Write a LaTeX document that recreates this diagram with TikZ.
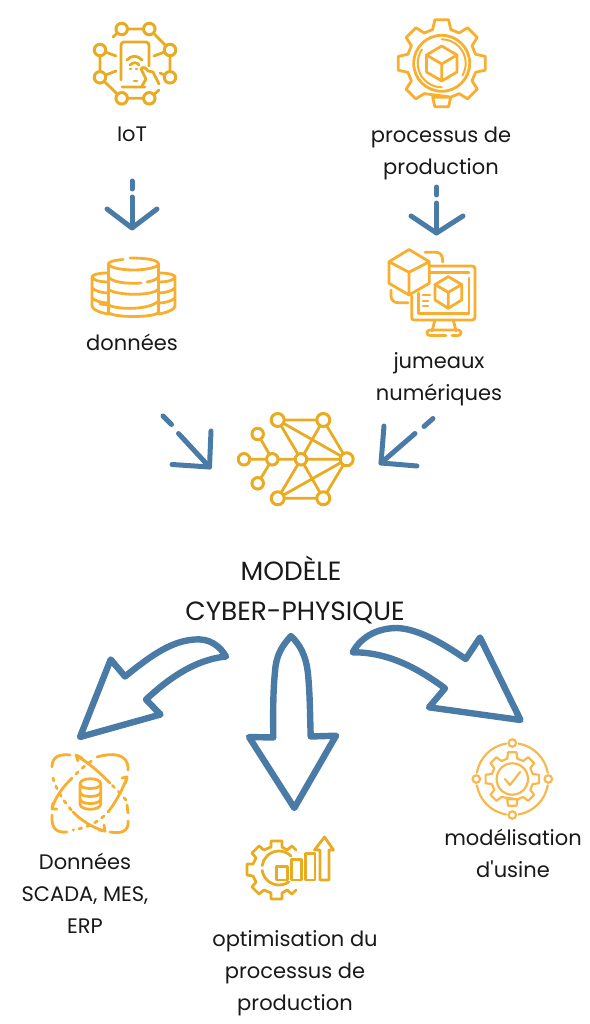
\documentclass[tikz,border=0pt]{standalone}
\usepackage{fontspec}
\setmainfont{Poppins}
\newfontfamily\plainpoppins{Poppins}
\usetikzlibrary{calc,arrows.meta}
\definecolor{arrowblue}{HTML}{4A7BA7}
\definecolor{iconA}{HTML}{E9AB22}
\definecolor{iconB}{HTML}{F8AE2E}
\definecolor{iconC}{HTML}{F8B84E}
\newcommand{\fullgear}[7]{% style, cx, cy, rin, rout, halfin, halfout  (8 teeth, one on top)
  \draw[#1] ($(#2,#3)+(90-#6:#4)$)
    \foreach \gA in {90,45,0,-45,-90,-135,-180,-225}{
      -- ($(#2,#3)+(\gA+#6:#4)$) -- ($(#2,#3)+(\gA+#7:#5)$) -- ($(#2,#3)+(\gA-#7:#5)$) -- ($(#2,#3)+(\gA-#6:#4)$)
    } -- cycle;}
\tikzset{
  x=1pt,y=-1pt,
  lbl/.style={font=\fontsize{21}{32}\selectfont,align=center,text=black!90,inner sep=0pt},
  thinarrow/.style={draw=arrowblue,line width=5pt,line cap=round,line join=round},
  bigarrow/.style={draw=arrowblue,line width=6.4pt,line join=round,line cap=round},
  icona/.style={draw=iconA,line width=2.8pt,line cap=round,line join=round},
  iconb/.style={draw=iconB,line width=2.8pt,line cap=round,line join=round},
  iconc/.style={draw=iconC,line width=2.2pt,line cap=round,line join=round},
  netnode/.style={circle,draw=iconA,line width=3pt,fill=white,minimum size=13pt,inner sep=0pt},
  netline/.style={draw=iconA,line width=2.8pt},
}
\begin{document}
\begin{tikzpicture}
\useasboundingbox (0,0) rectangle (589,1024);
% ---------- texts
\node[lbl] (iot) at (132,134) {IoT};
\node[lbl] (proc) at (441,153) {processus de\\production};
\node[lbl] (donnees) at (132,342) {données};
\node[lbl] (jumeaux) at (439,379) {jumeaux\\numériques};
\node[lbl,font=\fontsize{26.4}{40}\selectfont] (modele) at (295,590) {MODÈLE\hspace*{8pt}\\CYBER-PHYSIQUE};
\node[lbl] (scada) at (85,893) {Données\\SCADA, MES,\\ERP};
\node[lbl] (optim) at (295,973) {optimisation du\\processus de\\production};
\node[lbl] (usine) at (513,853.5) {modélisation\\d{\plainpoppins '}usine};
% ---------- small arrows
\coordinate (a1d1) at (132,181); \coordinate (a1d2) at (132,189);
\coordinate (a1s) at (132,197); \coordinate (a1t) at (132,228);
\coordinate (a1l) at (107,209); \coordinate (a1r) at (157,209);
\draw[thinarrow] (a1d1) -- (a1d2);
\draw[thinarrow] (a1s) -- (a1t);
\draw[thinarrow] (a1l) -- (a1t) -- (a1r);
\coordinate (a2d1) at (436.5,187); \coordinate (a2d2) at (436.5,195);
\coordinate (a2s) at (436.5,203); \coordinate (a2t) at (436.5,233);
\coordinate (a2l) at (411,216); \coordinate (a2r) at (463,216);
\draw[thinarrow] (a2d1) -- (a2d2);
\draw[thinarrow] (a2s) -- (a2t);
\draw[thinarrow] (a2l) -- (a2t) -- (a2r);
\coordinate (a3d1) at (163,416); \coordinate (a3d2) at (171.5,424.5);
\coordinate (a3s) at (178.5,433.5); \coordinate (a3t) at (209.5,467);
\coordinate (a3l) at (211,431); \coordinate (a3r) at (172,464.5);
\draw[thinarrow] (a3d1) -- (a3d2);
\draw[thinarrow] (a3s) -- (a3t);
\draw[thinarrow] (a3l) -- (a3t) -- (a3r);
\coordinate (a4d1) at (433,418.5); \coordinate (a4d2) at (424,426.5);
\coordinate (a4s) at (415,433.5); \coordinate (a4t) at (381,463);
\coordinate (a4l) at (384,426); \coordinate (a4r) at (417,466);
\draw[thinarrow] (a4d1) -- (a4d2);
\draw[thinarrow] (a4s) -- (a4t);
\draw[thinarrow] (a4l) -- (a4t) -- (a4r);
% ---------- big arrows
\draw[bigarrow] (226,656.5) .. controls (216,640) and (203,638) .. (190,640)
  .. controls (168,643) and (148,658) .. (125,676.5)
  -- (110.7,659.5) -- (80,737) -- (160.5,714.5) -- (146,699.5)
  .. controls (165,682) and (192,660) .. (226,656.5) -- cycle;
\draw[bigarrow] (291,636) .. controls (282,646) and (276,655) .. (275,672)
  .. controls (273,690) and (273,715) .. (273.3,737.5)
  -- (249,737) -- (294.3,808) -- (336,735.7) -- (310.7,736.5)
  .. controls (310,715) and (310,695) .. (308,674)
  .. controls (306,655) and (300,645) .. (291,636) -- cycle;
\draw[bigarrow] (352.7,652.3) .. controls (362,635) and (380,628) .. (397,628)
  .. controls (420,629) and (445,645) .. (465.7,659)
  -- (480,637.5) -- (520.5,720) -- (429,707.3) -- (445,688.3)
  .. controls (420,670) and (390,652) .. (352.7,652.3) -- cycle;
% ---------- network icon
\foreach \n/\x/\y in {na/277.7/420,nb/323.3/420,nc/257.7/434,nd/244/459.3,ne/272.3/459.3,nf/301/459.3,ng/346.7/459.3,nh/257.7/483.3,ni/277.7/498.3,nj/323.3/498.3}
  \coordinate (\n) at (\x,\y);
\draw[netline] (na)--(nb) (ni)--(nj) (na)--(nf) (na)--(ng) (nb)--(ng) (nb)--(nf)
  (ni)--(nf) (ni)--(ng) (nj)--(ng) (nj)--(nf) (nd)--(ng) (nc)--(ne) (nh)--(ne);
\foreach \n in {na,nb,ni,nj,ng} \node[netnode] (c\n) at (\n) {};
\foreach \n in {nc,nd,ne,nf,nh} \node[netnode,minimum size=11.5pt] (c\n) at (\n) {};
% ---------- IoT icon
\foreach \x/\y [count=\i] in {121.7/29,149.3/29,100/50,170/50,100/77.3,170/77.3,121.7/98.3,149.3/98.3}
  \coordinate (p\i) at (\x,\y);
\draw[icona] (p1)--(p2) (p7)--(p8) (p3)--(p5) (p4)--(p6)
  (p2)--(p4) (p5)--(p7)
  (p1)--(113,37) (p8)--(159,90) (p3)--(116,56) (p5)--(116,71) (p4)--(154,56) (p6)--(160,73);
\foreach \i in {1,...,8} \node[netnode,minimum size=11.5pt] (q\i) at (p\i) {};
\draw[icona] (122,87) -- (145,87) (121,80) -- (121,45) arc[start angle=180,end angle=270,radius=3] -- (146,42) arc[start angle=-90,end angle=0,radius=3] -- (149,66);
\draw[icona] (128,42) -- (138,42);
\draw[icona] (127,60) .. controls (131,55) and (138,55) .. (142,60);
\draw[icona] (130,65) .. controls (133,62) and (137,62) .. (139,65);
\draw[icona] (130,69) -- (131,69) (136,69) -- (137,69) (134,81) -- (137,81);
\draw[icona] (142,86) -- (146,79) -- (141,69) .. controls (143,66) and (146,68) .. (148,71) -- (153,72) -- (159,84);
% ---------- production gear
\fullgear{iconb}{441.7}{63.3}{35}{44}{15}{9}
\draw[iconb] (441.7,63.3) circle[radius=28];
\draw[iconb,line width=2pt] (441.7,39.3) arc[start angle=-90,end angle=30,radius=24];
\draw[iconb,line width=2pt] (441.7,87.3) arc[start angle=90,end angle=215,radius=24];
\draw[iconb] (441.7,46) -- (457,55) -- (457,72) -- (441.7,81) -- (426.5,72) -- (426.5,55) -- cycle
  (426.5,55) -- (441.7,64) -- (457,55) (441.7,64) -- (441.7,81);
% ---------- database icon
\draw[iconb] (108.5,273) .. controls (97,273) and (92,275) .. (92,277) -- (92,306)
  .. controls (92,309) and (100,313) .. (108.5,314);
\draw[iconb] (92,277) .. controls (92,280) and (100,282) .. (108.5,282);
\draw[iconb] (92,288) .. controls (95,291) and (102,293) .. (108.5,293);
\draw[iconb] (92,298) .. controls (95,301) and (102,303) .. (108.5,303);
\draw[iconb] (158.5,273) .. controls (170,273) and (175,275) .. (175,277) -- (175,306)
  .. controls (175,309) and (167,313) .. (158.5,314);
\draw[iconb] (175,277) .. controls (175,280) and (167,282) .. (158.5,282);
\draw[iconb] (175,288) .. controls (172,291) and (165,293) .. (158.5,293);
\draw[iconb] (175,298) .. controls (172,301) and (165,303) .. (158.5,303);
\draw[iconb] (108.5,264) -- (108.5,312);
\draw[iconb] (158.5,264) -- (158.5,312);
\draw[iconb] (108.5,312) .. controls (110,318) and (157,318) .. (158.5,312);
\draw[iconb] (123,259.5) .. controls (112,260.5) and (108.5,262) .. (108.5,264)
  .. controls (108.5,267) and (120,270) .. (133.5,270)
  .. controls (147,270) and (158.5,267) .. (158.5,264)
  .. controls (158.5,260) and (147,258) .. (130,258);
\draw[iconb] (108.5,277) .. controls (112,282) and (125,284) .. (141,283);
\draw[iconb] (147,282) .. controls (152,281) and (156,280) .. (158.5,277);
\draw[iconb] (108.5,289) .. controls (112,295) and (152,297) .. (158.5,289);
\draw[iconb] (100,304) -- (108.5,305) .. controls (118,310) and (150,310) .. (158.5,301);
% ---------- twin icon
\draw[iconb] (409,249.5) -- (429.3,261.7) -- (429.3,283.3) -- (409,295) -- (389,283.3) -- (389,261.7) -- cycle
  (389,261.7) -- (409,272.3) -- (429.3,261.7) (409,272.3) -- (409,295);
\draw[iconb] (429.5,266) -- (472,266) .. controls (474,266) and (475,267) .. (475,269) -- (475,317)
  .. controls (475,319) and (474,320) .. (472,320) -- (414,320) .. controls (412,320) and (411.7,319) .. (411.7,317) -- (411.7,296);
\draw[iconb] (430.5,272.7) -- (469,272.7) (469,278) -- (469,313.5) -- (418.3,313.5) -- (418.3,293);
\draw[iconb] (435,320) -- (432,331) (453.3,320) -- (456,331);
\draw[iconb] (446,335.5) -- (430,335.5) .. controls (426,335.5) and (426,330) .. (430,330) -- (458,330) .. controls (462,330) and (462,335.5) .. (458,335.5) -- (452,335.5);
\draw[iconb] (448.3,276.7) -- (461.7,284.5) -- (461.7,300) -- (448.3,308.3) -- (435,300) -- (435,284.5) -- cycle
  (435,284.5) -- (448.3,292.3) -- (461.7,284.5) (448.3,292.3) -- (448.3,308.3);
\draw[iconb] (423,295) -- (430,295) (423,301) -- (428,301) (423,306) -- (428,306);
\draw[iconb] (425,252.3) -- (436,252.3) .. controls (441,252.3) and (442.7,256) .. (442.7,262);
\draw[iconb] (391,290) -- (391,296) .. controls (391,300) and (394,302.7) .. (398,302.7) -- (408,302.7);
% ---------- SCADA icon
\tikzset{orbitdash/.style={iconb,dash pattern=on 3pt off 5.5pt}}
\draw[iconb] (70,755) .. controls (60,754) and (52,756) .. (52,767);
\draw[orbitdash] (53,778) .. controls (56,790) and (65,803) .. (73,812);
\draw[iconb] (73,812) .. controls (82,821) and (93,828) .. (105,831);
\draw[iconb] (110,832) .. controls (122,834) and (129,831) .. (128,821);
\draw[iconb] (128,813) -- (127,805);
\draw[orbitdash] (126,800) .. controls (122,795) and (117,790) .. (110,783);
\draw[iconb] (110,783) .. controls (100,773) and (88,762) .. (76.7,756);
\draw[iconb] (97,757) .. controls (110,753) and (129,752) .. (128,770);
\draw[iconb] (127,778) .. controls (122,790) and (116,802) .. (108,812);
\draw[orbitdash] (104,816) .. controls (96,823) and (86,828) .. (73,830);
\draw[iconb] (67,832) .. controls (57,833) and (51,829) .. (52,815);
\draw[iconb] (52,808) .. controls (56,796) and (63,787) .. (72,778);
\draw[orbitdash] (76,774) .. controls (81,769) and (87,764) .. (93,760);
\draw[iconb] (82,758) -- (76,755) -- (78,761);
\draw[iconb] (122,778) -- (127,777) -- (125.5,783);
\draw[iconb] (57,809) -- (52,809) -- (53,803);
\draw[iconb] (104,825) -- (105,831) -- (99,830);
\draw[iconb] (80,784) -- (80,804) .. controls (80,811) and (100.7,811) .. (100.7,804) -- (100.7,784)
  (80,784) .. controls (80,777) and (100.7,777) .. (100.7,784) .. controls (100.7,790) and (80,790) .. (80,784)
  (80,792) .. controls (80,798) and (100.7,798) .. (100.7,792)
  (80,799) .. controls (80,805) and (100.7,805) .. (100.7,799);
% ---------- optimisation icon
\draw[icona] (296,850) -- (292,846) -- (287,850) -- (282,847) -- (282,841) -- (271,841) -- (271,847) -- (264,850) -- (259,846) -- (252,853) -- (256,858) -- (253,864) -- (247,864) -- (247,875) -- (253,876) -- (256,882) -- (252,887) -- (259,894) -- (264,890) -- (271,893) -- (271,899) -- (282,899) -- (282,893) -- (287,890) -- (292,894) -- (296,890);
\draw[icona] ($(279,868)+(-45:17)$) arc[start angle=-45,end angle=-172,radius=17];
\draw[icona] ($(279,868)+(55:17)$) arc[start angle=55,end angle=172,radius=17];
\draw[icona] (276.7,866.7) rectangle (287.7,880) (291.7,859.3) rectangle (301.7,880) (305.7,853.3) rectangle (315,880);
\draw[icona] (320,880) -- (320,850) -- (314.5,850) -- (324.5,837) -- (333.5,850) -- (329,850) -- (329,880) -- cycle;
% ---------- modelisation icon
\fullgear{iconc}{512.3}{779}{21}{27}{14}{9}
\draw[iconc] (512.3,779) circle[radius=15.7];
\draw[iconc] (505,779) -- (510,785) -- (520,772);
\foreach \a in {10,100,190,280}
  \draw[iconc] ($(512.3,779)+(\a:36)$) arc[start angle=\a,end angle=\a+70,radius=36];
\foreach \a/\n in {0/r,90/s,180/l,270/t}
  \node[circle,draw=iconC,line width=2.2pt,fill=white,minimum size=7.5pt,inner sep=0pt] (m\n) at ($(512.3,779)+(\a:36)$) {};
\end{tikzpicture}
\end{document}
